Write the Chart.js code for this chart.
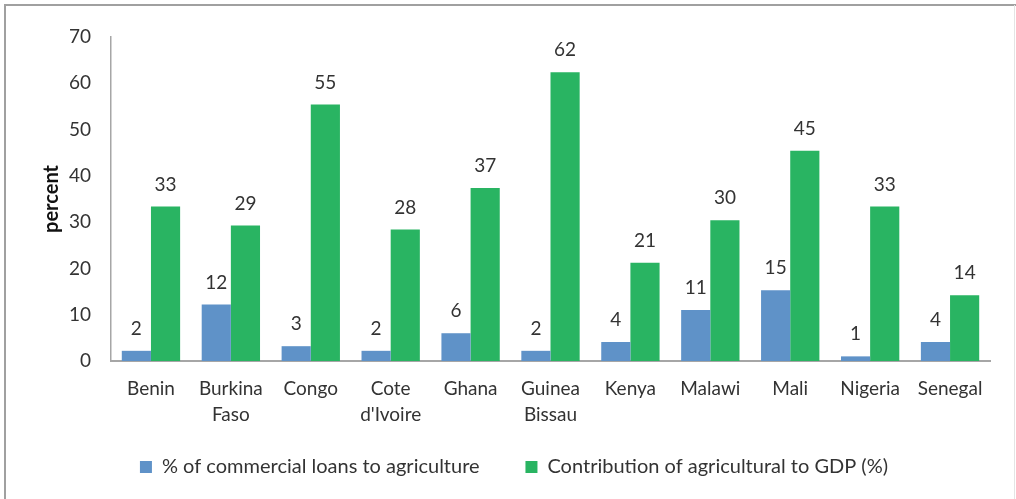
<!DOCTYPE html>
<html>
<head>
<meta charset="utf-8">
<script src="https://cdn.jsdelivr.net/npm/chart.js@4"></script>
<style>
html,body{margin:0;padding:0;background:#fff;}
#wrap{position:relative;width:1016px;height:499px;}
</style>
</head>
<body>
<div id="wrap"><canvas id="c" width="1016" height="499"></canvas></div>
<script>
const categories = [["Benin"],["Burkina","Faso"],["Congo"],["Cote","d'Ivoire"],["Ghana"],["Guinea","Bissau"],["Kenya"],["Malawi"],["Mali"],["Nigeria"],["Senegal"]];
const loansToAgriculture = [2.2, 12.2, 3.2, 2.2, 6.0, 2.2, 4.1, 11.0, 15.3, 1.0, 4.1];
const agricultureGDP = [33.4, 29.3, 55.4, 28.4, 37.4, 62.4, 21.2, 30.4, 45.4, 33.4, 14.2];
const seriesNames = ["% of commercial loans to agriculture", "Contribution of agricultural to GDP (%)"];
const yTicks = [0, 10, 20, 30, 40, 50, 60, 70];

const FONT = "Lato, 'Open Sans', sans-serif";
const TEXT = "#333333";

const frame = {
  id: 'frame',
  beforeDraw(chart) {
    const ctx = chart.ctx;
    ctx.save();
    ctx.fillStyle = '#fff';
    ctx.fillRect(0, 0, chart.width, chart.height);
    ctx.strokeStyle = '#a0a0a0';
    ctx.lineWidth = 2;
    ctx.beginPath();
    ctx.moveTo(5, chart.height);
    ctx.lineTo(5, 5);
    ctx.lineTo(chart.width, 5);
    ctx.stroke();
    ctx.strokeStyle = '#e4e4e4';
    ctx.lineWidth = 1;
    ctx.beginPath();
    ctx.moveTo(1014.5, 5);
    ctx.lineTo(1014.5, chart.height);
    ctx.stroke();
    ctx.restore();
  }
};

const legendShift = {
  id: 'legendShift',
  afterLayout(chart) {
    if (chart.legend) { chart.legend.left += 18; }
  }
};

const valueLabels = {
  id: 'valueLabels',
  afterDatasetsDraw(chart) {
    const ctx = chart.ctx;
    ctx.save();
    ctx.font = "19px " + FONT;
    ctx.fillStyle = TEXT;
    ctx.textAlign = 'center';
    ctx.textBaseline = 'middle';
    chart.data.datasets.forEach((ds, di) => {
      const meta = chart.getDatasetMeta(di);
      meta.data.forEach((bar, i) => {
        ctx.fillText(String(Math.round(ds.data[i])), bar.x, bar.y - 22);
      });
    });
    ctx.restore();
  }
};

new Chart(document.getElementById('c'), {
  type: 'bar',
  data: {
    labels: categories,
    datasets: [
      { label: seriesNames[0], data: loansToAgriculture, backgroundColor: '#5f92c8', categoryPercentage: 0.73, barPercentage: 1.0 },
      { label: seriesNames[1], data: agricultureGDP, backgroundColor: '#29b462', categoryPercentage: 0.73, barPercentage: 1.0 }
    ]
  },
  options: {
    responsive: false,
    animation: false,
    devicePixelRatio: 1,
    layout: { padding: { left: 20, right: 26, top: 37, bottom: 12 } },
    plugins: {
      tooltip: { enabled: false },
      legend: {
        position: 'bottom',
        labels: {
          font: { family: FONT, size: 20 },
          color: TEXT,
          boxWidth: 12,
          boxHeight: 12,
          padding: 10,
          useBorderRadius: false,
          generateLabels(chart) {
            const items = Chart.defaults.plugins.legend.labels.generateLabels(chart);
            items.forEach((it, i) => {
              if (i < items.length - 1) it.text = it.text + '\u00A0'.repeat(7);
            });
            return items;
          }
        }
      }
    },
    scales: {
      x: {
        grid: { display: false, drawTicks: false },
        border: { display: true, color: '#a6a6a6', width: 2 },
        ticks: { font: { family: FONT, size: 19, lineHeight: 1.35 }, color: TEXT, padding: 15, maxRotation: 0, autoSkip: false },
        afterFit(scale) { scale.height = 86; }
      },
      y: {
        min: 0, max: 70,
        afterBuildTicks(scale) { scale.ticks = yTicks.map(v => ({ value: v })); },
        grid: { display: false, drawTicks: false },
        border: { display: true, color: '#a6a6a6', width: 1.5 },
        ticks: { font: { family: FONT, size: 19 }, color: TEXT, padding: 20 },
        title: { display: true, text: 'percent', font: { family: FONT, size: 20, weight: 'bold' }, color: '#111', padding: { top: 20, bottom: 0 } },
        afterFit(scale) { scale.width = 91; }
      }
    }
  },
  plugins: [frame, legendShift, valueLabels]
});
</script>
</body>
</html>
